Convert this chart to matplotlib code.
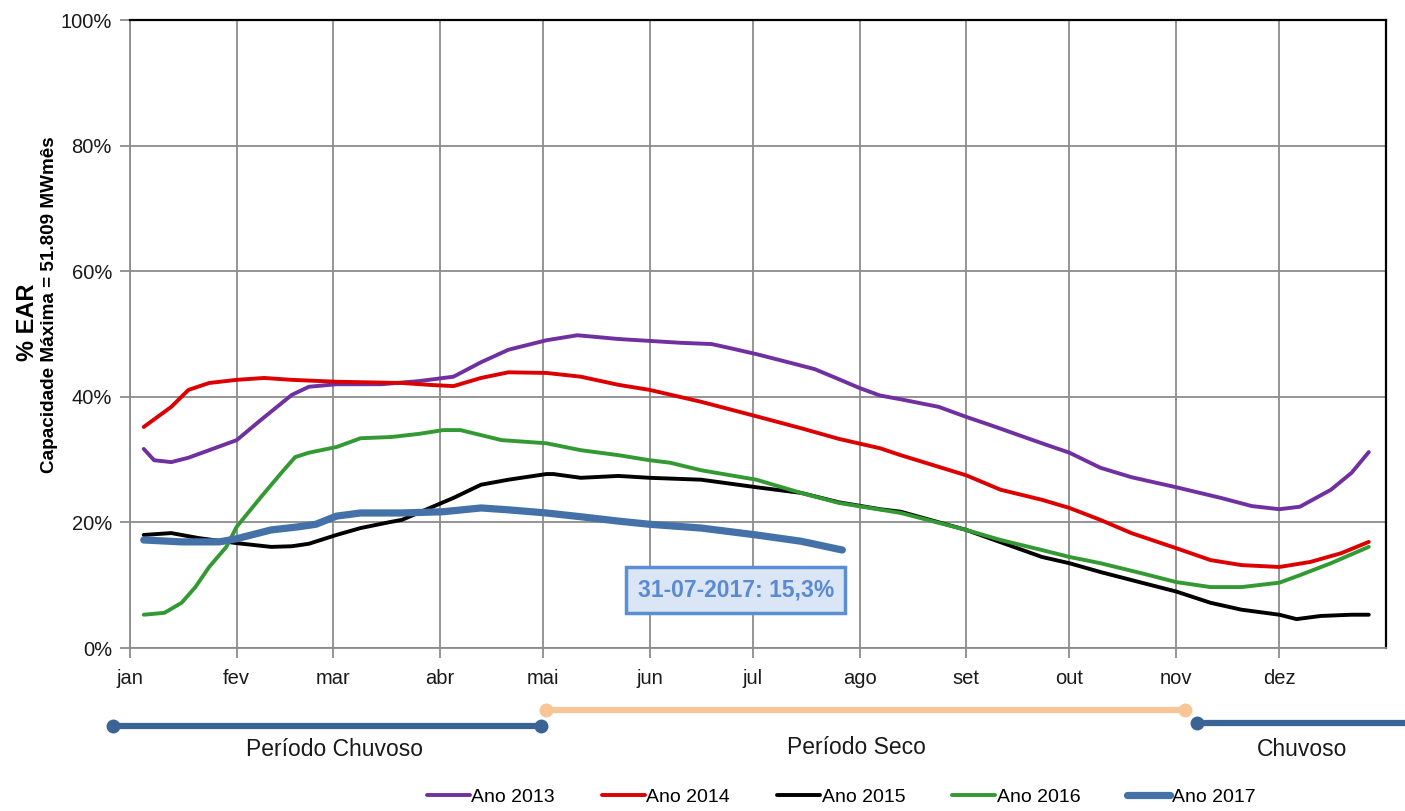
import matplotlib
matplotlib.use('Agg')
import matplotlib.pyplot as plt
from matplotlib.ticker import FuncFormatter

plt.rcParams['font.family'] = ['Liberation Sans', 'DejaVu Sans']

# ---------------- data ----------------
months = ['jan', 'fev', 'mar', 'abr', 'mai', 'jun', 'jul', 'ago', 'set', 'out', 'nov', 'dez']
month_start = [0, 31, 59, 90, 120, 151, 181, 212, 243, 273, 304, 334]

days_2013 = [4, 7, 12, 17, 23, 31, 38, 47, 52, 60, 73, 84, 94, 102, 110, 121, 130, 142, 151, 160, 169,
             174, 182, 192, 199, 206, 212, 218, 224, 235, 243, 250, 265, 273, 282, 291, 304, 317, 326,
             334, 340, 349, 355, 360]
ear_2013 = [31.7, 29.9, 29.6, 30.3, 31.5, 33.1, 36.3, 40.3, 41.6, 42.0, 42.0, 42.5, 43.2, 45.5, 47.5,
            49.0, 49.8, 49.2, 48.9, 48.6, 48.4, 47.8, 46.8, 45.4, 44.4, 42.8, 41.4, 40.2, 39.6, 38.4,
            36.8, 35.5, 32.6, 31.1, 28.7, 27.2, 25.6, 23.9, 22.6, 22.1, 22.5, 25.2, 27.9, 31.2]

days_2014 = [4, 12, 17, 23, 31, 39, 47, 60, 79, 87, 94, 102, 110, 121, 131, 142, 151, 166, 182, 195,
             206, 218, 224, 243, 253, 265, 273, 282, 291, 304, 314, 323, 334, 343, 352, 360]
ear_2014 = [35.2, 38.4, 41.1, 42.2, 42.7, 43.0, 42.7, 42.4, 42.2, 41.9, 41.7, 43.0, 43.9, 43.8, 43.2,
            41.9, 41.1, 39.2, 36.9, 35.0, 33.3, 31.8, 30.7, 27.5, 25.2, 23.6, 22.3, 20.4, 18.3, 15.9,
            14.0, 13.2, 12.9, 13.7, 15.1, 16.9]

days_2015 = [4, 12, 20, 31, 41, 47, 52, 60, 67, 76, 79, 94, 102, 110, 121, 123, 131, 142, 151, 166,
             182, 195, 206, 218, 224, 243, 265, 273, 282, 294, 304, 314, 323, 334, 339, 346, 355, 360]
ear_2015 = [18.0, 18.3, 17.5, 16.7, 16.1, 16.2, 16.6, 18.0, 19.1, 20.1, 20.4, 23.9, 26.0, 26.8, 27.7,
            27.7, 27.1, 27.4, 27.1, 26.8, 25.6, 24.7, 23.2, 22.1, 21.7, 18.8, 14.5, 13.5, 12.1, 10.4,
            9.0, 7.2, 6.1, 5.3, 4.6, 5.1, 5.3, 5.3]

days_2016 = [4, 10, 15, 19, 23, 28, 31, 38, 44, 48, 52, 60, 67, 76, 84, 91, 96, 108, 121, 131, 142,
             151, 157, 166, 182, 195, 206, 224, 243, 253, 265, 273, 282, 294, 304, 314, 323, 334, 340,
             349, 360]
ear_2016 = [5.3, 5.6, 7.2, 9.7, 12.9, 16.1, 19.3, 24.0, 27.9, 30.4, 31.1, 32.0, 33.4, 33.6, 34.1,
            34.7, 34.7, 33.1, 32.6, 31.5, 30.7, 29.9, 29.5, 28.3, 26.8, 24.7, 23.1, 21.5, 18.8, 17.2,
            15.6, 14.5, 13.5, 11.9, 10.5, 9.7, 9.7, 10.4, 11.6, 13.5, 16.1]

days_2017 = [4, 15, 26, 31, 41, 49, 54, 60, 67, 79, 91, 102, 110, 121, 131, 142, 151, 166, 182, 195, 207]
ear_2017 = [17.2, 16.9, 16.9, 17.4, 18.8, 19.3, 19.7, 21.0, 21.5, 21.5, 21.7, 22.3, 22.0, 21.5, 20.9,
            20.2, 19.7, 19.1, 18.0, 17.0, 15.6]

series = [
    ('Ano 2013', days_2013, ear_2013, '#7030A0', 2.8),
    ('Ano 2014', days_2014, ear_2014, '#DD0000', 2.8),
    ('Ano 2015', days_2015, ear_2015, '#000000', 2.8),
    ('Ano 2016', days_2016, ear_2016, '#339933', 2.8),
    ('Ano 2017', days_2017, ear_2017, '#4472A8', 5.2),
]

annotation_text = '31-07-2017: 15,3%'
annotation_day = 176
annotation_value = 9.2

periods = [
    ('Período Chuvoso', -5, 119.5, -0.124, '#3A6496'),
    ('Período Seco', 121, 306.5, -0.099, '#F8C597'),
    ('Chuvoso', 310, 372, -0.119, '#3A6496'),
]

# ---------------- figure ----------------
fig = plt.figure(figsize=(14.05, 8.11), dpi=100)
ax = fig.add_axes([130 / 1405, 1 - 648 / 811, 1256 / 1405, 628 / 811])

for name, d, v, c, lw in series:
    ax.plot(d, v, color=c, lw=lw, label=name, solid_capstyle='round', solid_joinstyle='round', zorder=3)

ax.set_xlim(0, 365)
ax.set_ylim(0, 100)
ax.set_xticks(month_start)
ax.set_xticklabels(months)
ax.set_yticks([0, 20, 40, 60, 80, 100])
ax.yaxis.set_major_formatter(FuncFormatter(lambda v, p: f'{v:.0f}%'))
ax.grid(True, color='#8C8C8C', lw=1.3)
ax.set_axisbelow(True)
ax.tick_params(axis='both', labelsize=14.5, length=7, width=1.3, color='#8C8C8C', labelcolor='#1a1a1a')
ax.tick_params(axis='x', pad=8)
ax.tick_params(axis='y', pad=6)
for s in ['left', 'bottom']:
    ax.spines[s].set_color('#8C8C8C')
    ax.spines[s].set_linewidth(1.3)
for s in ['top', 'right']:
    ax.spines[s].set_color('#000000')
    ax.spines[s].set_linewidth(1.6)

ax.text(annotation_day, annotation_value, annotation_text, ha='center', va='center',
        fontsize=16.5, fontweight='bold', color='#5A8AD0', zorder=5,
        bbox=dict(boxstyle='square,pad=0.5', facecolor='#DAE5F5', edgecolor='#5B8FD4', lw=2.5))

# period bars below the axis
trans = ax.get_xaxis_transform()
for label, x0, x1, yb, c in periods:
    ax.plot([x0, x1], [yb, yb], color=c, lw=4.5, transform=trans, clip_on=False,
            solid_capstyle='butt')
    ax.plot([x0], [yb], 'o', color=c, ms=9, transform=trans, clip_on=False)
    if label != 'Chuvoso':
        ax.plot([x1], [yb], 'o', color=c, ms=9, transform=trans, clip_on=False)

fig.text(335 / 1405, 1 - 749 / 811, 'Período Chuvoso', ha='center', va='center', fontsize=16.5, color='#1a1a1a')
fig.text(856 / 1405, 1 - 747 / 811, 'Período Seco', ha='center', va='center', fontsize=16.5, color='#1a1a1a')
fig.text(1302 / 1405, 1 - 750 / 811, 'Chuvoso', ha='center', va='center', fontsize=16.5, color='#1a1a1a')

# y labels
fig.text(28 / 1405, 1 - 322 / 811, '% EAR', rotation=90, ha='center', va='center',
         fontsize=17, fontweight='bold')
fig.text(50 / 1405, 1 - 305 / 811, 'Capacidade Máxima = 51.809 MWmês', rotation=90, ha='center',
         va='center', fontsize=13.6, fontweight='bold')

handles, labels = ax.get_legend_handles_labels()
fig.legend(handles, labels, loc='center', bbox_to_anchor=(841 / 1405, 1 - 797 / 811), ncol=5,
           frameon=False, fontsize=14, handlelength=2.2, handletextpad=0.1, columnspacing=2.4)

fig.savefig('out.png', dpi=100)
